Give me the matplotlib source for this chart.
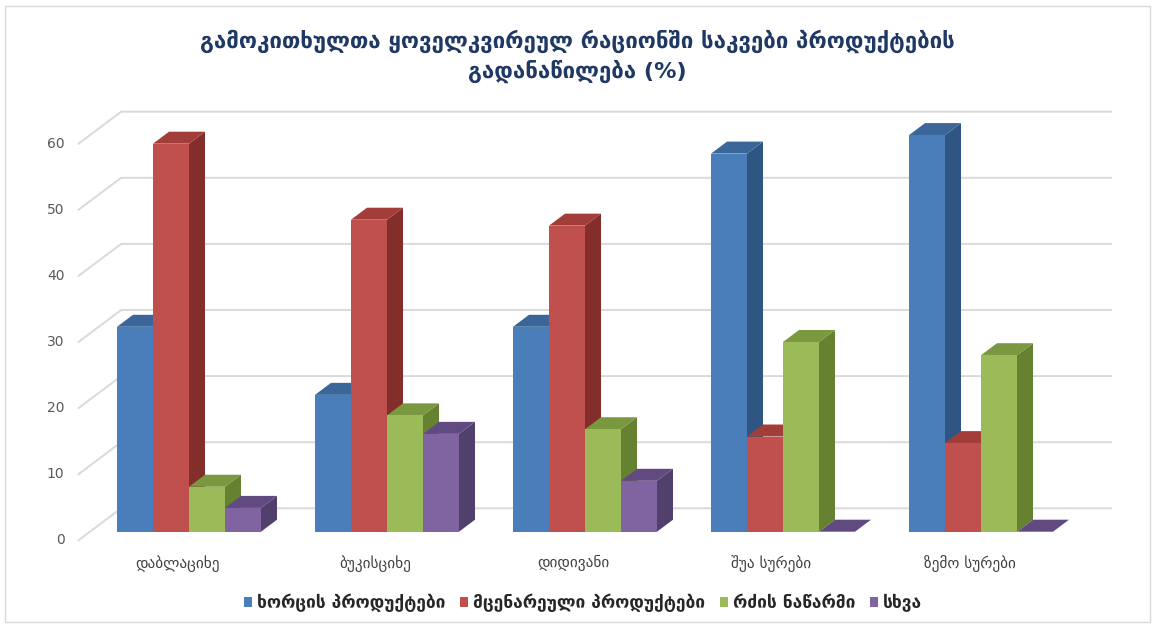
import matplotlib
matplotlib.use("Agg")
import matplotlib.pyplot as plt
from matplotlib.patches import Polygon, Rectangle, Patch
from matplotlib.lines import Line2D
from matplotlib.transforms import IdentityTransform

# ---------------- data ----------------
categories = ["დაბლაციხე", "ბუკისციხე", "დიდივანი", "შუა სურები", "ზემო სურები"]
series_names = ["ხორცის პროდუქტები", "მცენარეული პროდუქტები", "რძის ნაწარმი", "სხვა"]
meat = [31.0, 20.7, 31.0, 57.2, 60.0]
plant = [58.7, 47.2, 46.3, 14.4, 13.4]
dairy = [6.8, 17.6, 15.5, 28.7, 26.7]
other = [3.6, 14.8, 7.7, 0.0, 0.0]
yticks = [0, 10, 20, 30, 40, 50, 60]
title = "გამოკითხულთა ყოველკვირეულ რაციონში საკვები პროდუქტების\nგადანაწილება (%)"

series = [meat, plant, dairy, other]
front_cols = ["#4A7EBB", "#C0504D", "#9BBB59", "#8064A2"]
top_cols = ["#3A6699", "#A33D3A", "#7A9840", "#614A80"]
side_cols = ["#2F5683", "#832E2B", "#66812F", "#513F6C"]

W, H = 1155, 628
fig = plt.figure(figsize=(W / 100, H / 100), dpi=100)
ax = fig.add_axes([90 / W, (H - 531.7) / H, 990 / W, 396.6 / H])
ax.set_xlim(-0.5, 4.5)
ax.set_ylim(0, 60)
ax.axis("off")

ID = IdentityTransform()
BAR_D = (16.0, 12.0)      # bar depth offset (px)
BACK_D = (31.2, 23.4)     # back wall offset from bar-front plane
FLOOR_D = (-11.5, -8.6)   # floor front edge offset from bar-front plane


def disp(x, y, off=(0, 0)):
    px, py = ax.transData.transform((x, y))
    return (px + off[0], py + off[1])


grid_col = "#D9D9D9"
# gridlines on side wall + back wall
for v in yticks:
    p0 = disp(-0.5, v, FLOOR_D)
    p1 = disp(-0.5, v, BACK_D)
    p2 = disp(4.5, v, BACK_D)
    fig.add_artist(Line2D([p0[0], p1[0], p2[0]], [p0[1], p1[1], p2[1]],
                          transform=ID, color=grid_col, lw=1.4, zorder=1))
    fig.text(p0[0] - 14, p0[1], str(v), transform=ID, ha="right", va="center",
             fontsize=10, color="#595959")

# bars
w = 36.0 / 198.0
z = 2
for i in range(len(categories)):
    for j, vals in enumerate(series):
        v = vals[i]
        x0 = i - 2 * w + j * w
        x1 = x0 + w
        a = disp(x0, 0)
        b = disp(x1, 0)
        c = disp(x1, v)
        d = disp(x0, v)
        # side face
        side = [b, disp(x1, 0, BAR_D), disp(x1, v, BAR_D), c]
        fig.add_artist(Polygon(side, closed=True, transform=ID, facecolor=side_cols[j],
                               edgecolor="none", zorder=z))
        # top face
        top = [d, c, disp(x1, v, BAR_D), disp(x0, v, BAR_D)]
        fig.add_artist(Polygon(top, closed=True, transform=ID, facecolor=top_cols[j],
                               edgecolor="none", zorder=z + 1))
        # front face
        if v > 0:
            fig.add_artist(Polygon([a, b, c, d], closed=True, transform=ID,
                                   facecolor=front_cols[j], edgecolor="none", zorder=z + 2))
        z += 3

# category labels
for i, cat in enumerate(categories):
    p = disp(i, 0, FLOOR_D)
    fig.text(p[0], p[1] - 23, cat, transform=ID, ha="center", va="center",
             fontsize=11, color="#404040")

# title
fig.text(0.5, (H - 56) / H, title, ha="center", va="center", fontsize=16,
         fontweight="bold", color="#1F3864", linespacing=1.35)

# legend
handles = [Patch(facecolor=c, edgecolor="none") for c in front_cols]
leg = fig.legend(handles, series_names, loc="center", bbox_to_anchor=(583 / W, (H - 603) / H),
                 ncol=4, frameon=False, handlelength=0.45, handleheight=0.5,
                 handletextpad=0.3, columnspacing=0.85,
                 prop={"size": 12.5, "weight": "bold"})
for t in leg.get_texts():
    t.set_color("#262626")

# outer frame
fig.add_artist(Rectangle((5 / W, 6 / H), 1145 / W, 616 / H, transform=fig.transFigure,
                         fill=False, edgecolor="#D9D9D9", lw=1.0))

fig.savefig("out.png", dpi=100)
